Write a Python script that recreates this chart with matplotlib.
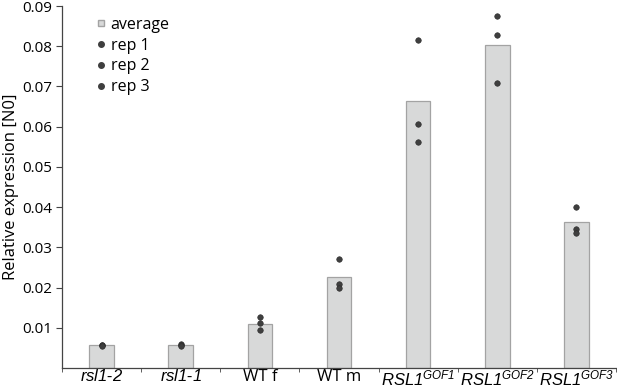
import numpy as np
import matplotlib.pyplot as plt
from matplotlib.lines import Line2D

plt.rcParams["font.family"] = ["Open Sans", "DejaVu Sans"]
plt.rcParams["mathtext.fontset"] = "custom"
plt.rcParams["mathtext.it"] = "Liberation Sans:italic"
plt.rcParams["mathtext.rm"] = "Liberation Sans:italic"

# data
labels = [r"$\mathrm{rsl1}$-$\mathrm{2}$", r"$\mathrm{rsl1}$-$\mathrm{1}$", "WT f", "WT m",
          r"$\mathrm{RSL1}^{\mathrm{GOF1}}$", r"$\mathrm{RSL1}^{\mathrm{GOF2}}$",
          r"$\mathrm{RSL1}^{\mathrm{GOF3}}$"]
average = [0.0057, 0.0057, 0.0109, 0.0227, 0.0663, 0.0804, 0.0363]
rep1 = [0.0058, 0.0060, 0.0126, 0.0270, 0.0816, 0.0876, 0.0400]
rep2 = [0.0056, 0.0057, 0.0111, 0.0209, 0.0607, 0.0829, 0.0345]
rep3 = [0.0055, 0.0055, 0.0094, 0.0199, 0.0561, 0.0708, 0.0335]

fig = plt.figure(figsize=(6.17, 3.88), dpi=100)
ax = fig.add_axes([62 / 617, 20 / 388, 554 / 617, 362 / 388])

x = np.arange(len(labels))
ax.bar(x, average, width=0.31, color="#d8d9d9", edgecolor="#a3a3a3", linewidth=0.9, zorder=1)
for rep in (rep1, rep2, rep3):
    ax.scatter(x, rep, s=16, color="#3f3f3f", edgecolors="#2a2a2a", linewidths=0.4, zorder=3)

ax.set_xlim(-0.5, len(labels) - 0.5)
ax.set_ylim(0, 0.09)
ax.set_yticks(np.arange(0.01, 0.0901, 0.01))
ax.set_yticklabels([f"{v:.2f}" for v in np.arange(0.01, 0.0901, 0.01)], fontsize=11)
ax.set_xticks(x)
ax.set_xticklabels(labels, fontsize=12)
ax.set_xticks(np.arange(-0.5, len(labels), 1.0), minor=True)
ax.tick_params(axis="x", which="major", length=0, pad=1)
ax.tick_params(axis="x", which="minor", length=3, color="#444444")
ax.tick_params(axis="y", length=4, color="#444444", pad=3)
for s in ("top", "right"):
    ax.spines[s].set_visible(False)
for s in ("left", "bottom"):
    ax.spines[s].set_color("#444444")
    ax.spines[s].set_linewidth(0.9)
ax.set_ylabel("Relative expression [N0]", fontsize=12, labelpad=2)

handles = [
    Line2D([], [], marker="s", linestyle="", markersize=4.5, markerfacecolor="#d8d9d9",
           markeredgecolor="#a3a3a3", label="average"),
    Line2D([], [], marker="o", linestyle="", markersize=4, color="#3f3f3f", label="rep 1"),
    Line2D([], [], marker="o", linestyle="", markersize=4, color="#3f3f3f", label="rep 2"),
    Line2D([], [], marker="o", linestyle="", markersize=4, color="#3f3f3f", label="rep 3"),
]
ax.legend(handles=handles, loc="upper left", bbox_to_anchor=(0.03, 1.01), frameon=False,
          fontsize=11.5, handletextpad=0.1, labelspacing=0.3, handlelength=1.0)

fig.savefig("out.png", dpi=100)
